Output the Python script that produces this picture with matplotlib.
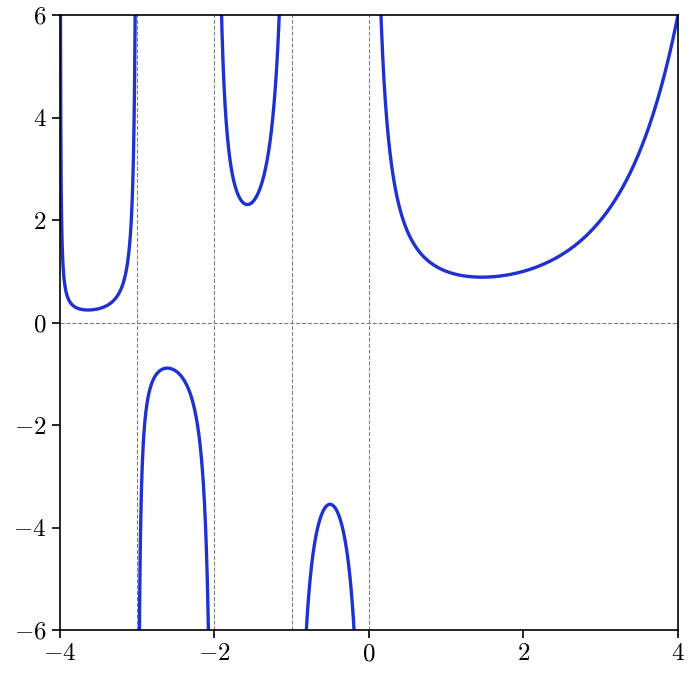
import math
import numpy as np
import matplotlib
matplotlib.use("Agg")
import matplotlib.pyplot as plt

plt.rcParams["font.family"] = "serif"
plt.rcParams["font.serif"] = ["cmr10"]
plt.rcParams["mathtext.fontset"] = "cm"
plt.rcParams["axes.formatter.use_mathtext"] = True
plt.rcParams["axes.unicode_minus"] = True

x_range = (-4, 4)
y_range = (-6, 6)
poles = [-4, -3, -2, -1, 0]
x_ticks = [-4, -2, 0, 2, 4]
y_ticks = [-6, -4, -2, 0, 2, 4, 6]

fig, ax = plt.subplots(figsize=(6.89, 6.82), dpi=100)
fig.subplots_adjust(left=0.087, right=0.984, top=0.978, bottom=0.076)

# gamma function, one branch between each pair of poles
edges = poles + [x_range[1]]
for a, b in zip(edges[:-1], edges[1:]):
    xs = np.linspace(a + 1e-4, b - (1e-4 if b in poles else 0), 4000)
    ys = np.array([math.gamma(v) for v in xs])
    ys = np.clip(ys, -50, 50)
    ax.plot(xs, ys, color="#1d32cf", lw=2.4)

for p in poles[1:]:
    ax.axvline(p, color="gray", ls="--", lw=0.8)
ax.axhline(0, color="gray", ls="--", lw=0.8)

ax.set_xlim(*x_range)
ax.set_ylim(*y_range)
ax.set_xticks(x_ticks)
ax.set_yticks(y_ticks)
ax.tick_params(labelsize=18, length=6, width=1.2)
for s in ax.spines.values():
    s.set_linewidth(1.2)

plt.savefig("out.png")
